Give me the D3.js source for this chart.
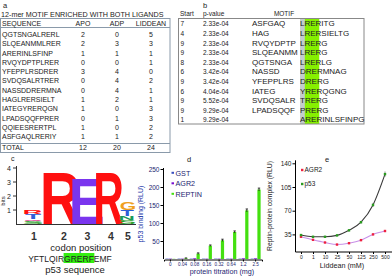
<!DOCTYPE html>
<html><head><meta charset="utf-8">
<script src="https://cdn.jsdelivr.net/npm/d3@7"></script>
<style>body{margin:0;background:#fff}svg{display:block}text{font-family:"Liberation Sans",Arial,sans-serif}</style>
</head><body><svg id="c" width="392" height="278"></svg>
<script>
// ---------- Panel a data ----------
const seqA = ["QGTSNGALRERL","SLQEANMMLRER","ARERINLSFINP","RVQYDPTPLRER","YFEPPLRSDRER","SVDQSALRTRER","NASSDDRERMNA","HAGLRERSIELT","IATEGYRERQGN","LPADSQQFPRER","QQIEESRERTPL","ASFGAQLRERIY"];
const apoA = [2,2,1,0,3,0,0,1,1,0,1,1];
const adpA = [0,3,1,0,4,4,4,2,0,1,0,1];
const liddeanA = [5,3,1,1,0,2,1,1,3,3,2,2];
const headersA = ["SEQUENCE","APO","ADP","LIDDEAN"];
const titleA = "12-mer MOTIF ENRICHED WITH BOTH LIGANDS";
// ---------- Panel b data ----------
const startB = [7,4,9,9,8,6,9,6,9,9,1];
const pvalB = ["2.33e-04","2.33e-04","2.33e-04","2.33e-04","2.33e-04","3.42e-04","3.42e-04","4.04e-04","5.52e-04","9.29e-04","9.29e-04"];
const leftB = ["ASFGAQ","HAG","RVQYDPTP","SLQEANMM","QGTSNGA","NASSD","YFEPPLRS","IATEG","SVDQSALR","LPADSQQF",""];
const coreB = ["LRER","LRER","LRER","LRER","LRER","DRER","DRER","YRER","TRER","PRER","ARER"];
const rightB = ["ITG","SIELTG","G","G","LG","MNAG","G","QGNG","G","G","INLSFINPG"];
// ---------- Panel c data ----------
const logoPos = [1,2,3,4,5];
const logoLetters = [["S","Q","T","R"],["R"],["E"],["R"],["S","N","T","G"]];
const logoBits = [[0.2,0.15,0.35,0.3],[3.85],[3.4],[3.85],[0.3,0.25,0.45,0.55]];
const bitTicks = [1,2,3,4];
const p53Seq = "YFTLQIRGRERFEMF";
const p53Motif = "GRERF";
// ---------- Panel d data ----------
const doseD = ["0","0.04","0.08","0.16","0.32","0.64","1.2","2.5"];
const seriesD = ["GST","AGR2","REPTIN"];
const gstD = [1,1,1,1,1,1,1,1];
const agr2D = [1,1,2,1,1,1,2,2];
const reptinD = [0.5,2,15,37,52,75,135,193];
const reptinErrD = [0,1,2,2,3,3,4,4];
const ticksD = [50,100,150,200,250];
// ---------- Panel e data ----------
const doseE = ["0","1","10","25","50","125","250","500"];
const seriesE = ["AGR2","p53"];
const p53E = [34,31.5,31.5,33.5,41,53,78.5,124];
const p53ErrE = [1,1,1,1,1.5,2,3,4];
const agr2E = [31.5,27,23,20,22,26.5,35,40];
const agr2ErrE = [0.5,0.5,0.5,0.5,0.5,0.5,1,1.5];
const ticksE = [35,70,105,140];

const svg = d3.select("#c");
const ink = "#222";

// ================= Panel a =================
(function(){
  const g = svg.append("g");
  g.append("text").attr("x",3).attr("y",8).attr("font-size",7.5).attr("fill",ink).text("a");
  g.append("text").attr("x",1).attr("y",16.5).attr("font-size",7.2).attr("fill",ink).text(titleA);
  const border = "#8a9aaa";
  g.append("rect").attr("x",0.5).attr("y",18.5).attr("width",169.5).attr("height",134).attr("fill","none").attr("stroke",border);
  g.append("line").attr("x1",0.5).attr("x2",170).attr("y1",27.5).attr("y2",27.5).attr("stroke",border);
  g.append("line").attr("x1",0.5).attr("x2",170).attr("y1",143.5).attr("y2",143.5).attr("stroke",border);
  const colX = d3.scalePoint().domain(headersA.slice(1)).range([83,151]);
  const fs = 7;
  g.append("text").attr("x",2).attr("y",25.5).attr("font-size",fs).attr("fill",ink).text(headersA[0]);
  headersA.slice(1).forEach(h=>g.append("text").attr("x",colX(h)).attr("y",25.5).attr("text-anchor","middle").attr("font-size",fs).attr("fill",ink).text(h));
  const y = d3.scaleLinear().domain([0,11]).range([34.5,136.5]);
  const rows = g.selectAll("g.r").data(seqA.map((s,i)=>({s,i,v:[apoA[i],adpA[i],liddeanA[i]]}))).join("g");
  rows.append("text").attr("x",2).attr("y",d=>y(d.i)+2.6).attr("font-size",fs).attr("fill",ink).text(d=>d.s);
  headersA.slice(1).forEach((h,k)=>rows.append("text").attr("x",colX(h)).attr("y",d=>y(d.i)+2.6).attr("text-anchor","middle").attr("font-size",fs).attr("fill",ink).text(d=>d.v[k]));
  const totals = [d3.sum(apoA),d3.sum(adpA),d3.sum(liddeanA)];
  const ty = y(12.2)+2.6;
  g.append("text").attr("x",2).attr("y",ty).attr("font-size",fs).attr("fill",ink).text("TOTAL");
  headersA.slice(1).forEach((h,k)=>g.append("text").attr("x",colX(h)).attr("y",ty).attr("text-anchor","middle").attr("font-size",fs).attr("fill",ink).text(totals[k]));
})();

// ================= Panel b =================
(function(){
  const g = svg.append("g");
  g.append("text").attr("x",203).attr("y",8).attr("font-size",7.5).attr("fill",ink).text("b");
  g.append("text").attr("x",180).attr("y",16).attr("font-size",6.5).attr("fill",ink).text("Start");
  g.append("text").attr("x",203).attr("y",16).attr("font-size",6.5).attr("fill",ink).text("p-value");
  g.append("text").attr("x",284).attr("y",16).attr("font-size",6.5).attr("text-anchor","middle").attr("fill",ink).text("MOTIF");
  const mono = '"Liberation Mono","Courier New",monospace';
  const cw = 4.8, coreX = 300;
  g.append("rect").attr("x",coreX).attr("y",18.5).attr("width",cw*4).attr("height",105.5).attr("fill","#c4cccc");
  g.append("rect").attr("x",coreX+cw).attr("y",18.5).attr("width",cw*3).attr("height",105.5).attr("fill","#86f000");
  g.append("rect").attr("x",178.5).attr("y",18.5).attr("width",185.5).attr("height",105.5).attr("fill","none").attr("stroke","#888");
  const y = d3.scaleLinear().domain([0,10]).range([24,120]);
  startB.forEach((s,i)=>{
    const yy = y(i)+2.4;
    g.append("text").attr("x",180.5).attr("y",yy).attr("font-size",6.5).attr("fill",ink).text(s);
    g.append("text").attr("x",203).attr("y",yy).attr("font-size",6.5).attr("fill",ink).text(pvalB[i]);
    g.append("text").attr("x",252).attr("y",yy).attr("font-size",8).attr("font-family",mono).attr("fill",ink).text(leftB[i]);
    g.append("text").attr("x",coreX).attr("y",yy).attr("font-size",8).attr("font-family",mono).attr("fill",ink).text(coreB[i]+rightB[i]);
  });
})();

// ================= Panel c =================
(function(){
  const g = svg.append("g");
  g.append("text").attr("x",11).attr("y",161).attr("font-size",7).attr("fill",ink).text("c");
  const y = d3.scaleLinear().domain([0,4]).range([224,168]);
  const x = d3.scaleLinear().domain([1,2,4,5]).range([34,64,111,128]);
  const widthOf = d3.scaleOrdinal().domain(logoPos).range([18,38,28,28,15]);
  const color = {R:"#ff1010",E:"#7a35ee",G:"#f0a020",T:"#2f5fd8",S:"#2aa02a",Q:"#e0409a",N:"#1a9a5a"};
  const cv = document.createElement("canvas").getContext("2d");
  cv.font = 'bold 100px "DejaVu Sans"';
  logoPos.forEach((p,pi)=>{
    let cum = 0;
    logoLetters[pi].forEach((L,li)=>{
      const b = logoBits[pi][li];
      const y0 = y(cum), y1 = y(cum+b); cum += b;
      const m = cv.measureText(L);
      const gw = m.actualBoundingBoxLeft + m.actualBoundingBoxRight;
      const gh = m.actualBoundingBoxAscent + m.actualBoundingBoxDescent;
      const w = widthOf(p), xl = x(p)-w/2;
      const sx = w/gw, sy = (y0-y1)/gh;
      g.append("text").attr("font-family","DejaVu Sans").attr("font-weight","bold").attr("font-size",100)
        .attr("fill",color[L])
        .attr("transform",`translate(${xl},${y0}) scale(${sx},${sy}) translate(${m.actualBoundingBoxLeft},${-m.actualBoundingBoxDescent})`)
        .text(L);
    });
  });
  g.append("line").attr("x1",16).attr("x2",136).attr("y1",224.5).attr("y2",224.5).attr("stroke","#333");
  g.append("line").attr("x1",16.5).attr("x2",16.5).attr("y1",166).attr("y2",224.5).attr("stroke","#333");
  bitTicks.forEach(t=>{
    g.append("line").attr("x1",13).attr("x2",16.5).attr("y1",y(t)).attr("y2",y(t)).attr("stroke","#333");
    g.append("text").attr("x",11).attr("y",y(t)+2.5).attr("text-anchor","end").attr("font-size",7).attr("fill",ink).text(t);
  });
  g.append("text").attr("transform","translate(5,201) rotate(-90)").attr("text-anchor","middle").attr("font-size",6).attr("fill",ink).text("bits");
  logoPos.forEach(p=>g.append("text").attr("x",x(p)).attr("y",240).attr("text-anchor","middle").attr("font-size",10.5).attr("font-weight","bold").attr("fill","#333").text(p));
  g.append("text").attr("x",81).attr("y",251).attr("text-anchor","middle").attr("font-size",9.5).attr("fill",ink).text("codon position");
  const st = p53Seq.indexOf(p53Motif);
  const t = g.append("text").attr("x",70).attr("y",261.5).attr("text-anchor","middle").attr("font-size",8.5).attr("fill",ink);
  const pre = p53Seq.slice(0,st);
  cv.font = '8.5px "Liberation Sans"';
  const wPre = cv.measureText(pre).width, wMid = cv.measureText(p53Motif).width, wAll = cv.measureText(p53Seq).width;
  const x0 = 70 - wAll/2;
  g.insert("rect","text").attr("x",x0+wPre-0.5).attr("y",253).attr("width",wMid+1).attr("height",10).attr("fill","#33ee11");
  t.text(p53Seq);
  g.append("text").attr("x",75).attr("y",273).attr("text-anchor","middle").attr("font-size",9.5).attr("fill",ink).text("p53 sequence");
})();

// ================= Panel d =================
(function(){
  const g = svg.append("g");
  const navy = "#1c2470";
  g.append("text").attr("x",187).attr("y",162).attr("font-size",7.5).attr("fill",ink).text("d");
  const y = d3.scaleLinear().domain([0,250]).range([259,169]);
  const x0 = d3.scaleBand().domain(doseD).range([164,262]).paddingInner(0.15).paddingOuter(0.1);
  const x1 = d3.scaleBand().domain(seriesD).range([0,x0.bandwidth()]).padding(0.05);
  const col = d3.scaleOrdinal().domain(seriesD).range(["#3a4fc0","#7a10d0","#44e010"]);
  const vals = {GST:gstD,AGR2:agr2D,REPTIN:reptinD};
  seriesD.forEach(s=>{
    g.selectAll(null).data(doseD).join("rect")
      .attr("x",(d)=>x0(d)+x1(s)).attr("width",x1.bandwidth())
      .attr("y",(d,i)=>y(vals[s][i])).attr("height",(d,i)=>y(0)-y(vals[s][i])).attr("fill",col(s));
  });
  doseD.forEach((d,i)=>{
    if(reptinErrD[i]<=0) return;
    const cx = x0(d)+x1("REPTIN")+x1.bandwidth()/2;
    const v = reptinD[i], e = reptinErrD[i];
    g.append("line").attr("x1",cx).attr("x2",cx).attr("y1",y(v+e)).attr("y2",y(v-e)).attr("stroke","#111").attr("stroke-width",0.8);
    g.append("line").attr("x1",cx-1.2).attr("x2",cx+1.2).attr("y1",y(v+e)).attr("y2",y(v+e)).attr("stroke","#111").attr("stroke-width",0.8);
  });
  const ya = g.append("g").attr("transform","translate(163.5,0)").call(d3.axisLeft(y).tickValues(ticksD).tickSize(3).tickPadding(1));
  ya.select(".domain").attr("d",`M0,${y(250)-1}V${y(0)}`);
  ya.selectAll("text").attr("font-size",6.5).attr("fill",navy).attr("font-family","Liberation Sans");
  const xa = g.append("g").attr("transform",`translate(0,${y(0)+0.5})`).call(d3.axisBottom(x0).tickSize(2).tickPadding(1));
  xa.selectAll("text").attr("font-size",4.6).attr("fill",navy).attr("font-family","Liberation Sans");
  g.append("text").attr("transform","translate(143,214) rotate(-90)").attr("text-anchor","middle").attr("font-size",7).attr("fill","#2035a8").text("p53 binding (RLU)");
  g.append("text").attr("x",222).attr("y",273.5).attr("text-anchor","middle").attr("font-size",7.2).attr("fill",navy).text("protein titration (mg)");
  const ly = d3.scalePoint().domain(seriesD).range([173,194]);
  seriesD.forEach(s=>{
    g.append("rect").attr("x",171.5).attr("y",ly(s)-1.2).attr("width",2.5).attr("height",2).attr("fill",col(s));
    g.append("text").attr("x",175.5).attr("y",ly(s)+2.5).attr("font-size",7.2).attr("fill",navy).text(s);
  });
})();

// ================= Panel e =================
(function(){
  const g = svg.append("g");
  g.append("text").attr("x",325).attr("y",162).attr("font-size",7.5).attr("fill",ink).text("e");
  const y = d3.scaleLinear().domain([9,140]).range([252,163.3]);
  const x = d3.scalePoint().domain(doseE).range([301,385]);
  const lineCol = {p53:"#3a3a3a",AGR2:"#c890e8"};
  const markCol = {p53:"#2a9a20",AGR2:"#ee2040"};
  const vals = {p53:p53E,AGR2:agr2E};
  const errs = {p53:p53ErrE,AGR2:agr2ErrE};
  const line = d3.line().x(d=>x(d[0])).y(d=>y(d[1])).curve(d3.curveMonotoneX);
  ["AGR2","p53"].forEach(s=>{
    g.append("path").datum(doseE.map((d,i)=>[d,vals[s][i]])).attr("d",line).attr("fill","none").attr("stroke",lineCol[s]).attr("stroke-width",1.1);
    doseE.forEach((d,i)=>{
      const v = vals[s][i], e = errs[s][i];
      g.append("line").attr("x1",x(d)).attr("x2",x(d)).attr("y1",y(v+e)).attr("y2",y(v-e)).attr("stroke","#555").attr("stroke-width",0.6);
      g.append("rect").attr("x",x(d)-1.2).attr("y",y(v)-1.2).attr("width",2.4).attr("height",2.4).attr("fill",markCol[s]);
    });
  });
  const ya = g.append("g").attr("transform","translate(295.5,0)").call(d3.axisLeft(y).tickValues(ticksE).tickSize(3).tickPadding(1));
  ya.select(".domain").attr("d",`M0,${y(140)-3}V${y(9)}`);
  ya.selectAll("text").attr("font-size",6.5).attr("fill",ink).attr("font-family","Liberation Sans");
  const xa = g.append("g").attr("transform",`translate(0,${y(9)})`).call(d3.axisBottom(x).tickSize(2).tickPadding(1.5));
  xa.select(".domain").attr("d","M295.5,0H392");
  xa.selectAll("text").attr("font-size",5).attr("fill",ink).attr("font-family","Liberation Sans");
  g.append("text").attr("transform","translate(272,206) rotate(-90)").attr("text-anchor","middle").attr("font-size",6.8).attr("fill",ink).text("Reptin-protein complex (RLU)");
  g.append("text").attr("x",342).attr("y",268).attr("text-anchor","middle").attr("font-size",7.2).attr("fill",ink).text("Liddean (mM)");
  const ly = d3.scalePoint().domain(seriesE).range([170,184]);
  seriesE.forEach(s=>{
    g.append("rect").attr("x",301).attr("y",ly(s)-1.2).attr("width",2.4).attr("height",2.4).attr("fill",markCol[s]);
    g.append("text").attr("x",304.5).attr("y",ly(s)+2.3).attr("font-size",6.5).attr("fill",ink).text(s);
  });
})();
</script></body></html>
